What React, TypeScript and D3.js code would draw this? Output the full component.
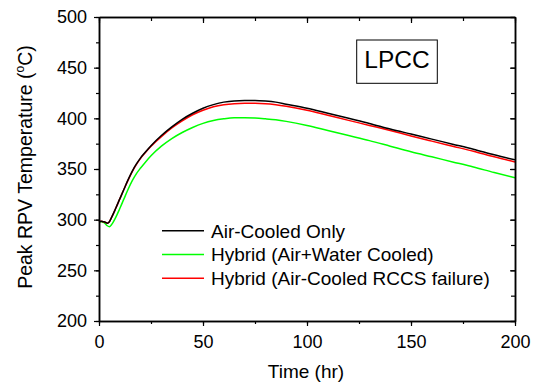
import React, { useEffect, useRef } from "react";
import * as d3 from "d3";

// time (hr) sample points
const times = [0, 1, 2, 3, 4, 5, 6, 8, 10, 12, 14, 16, 18, 20, 22, 25, 30, 35, 40, 45, 50, 55, 60, 65, 70, 75, 80, 85, 90, 100, 110, 120, 130, 140, 150, 160, 170, 180, 190, 200];

const airCooled = [298, 298.5, 298, 297.5, 296.5, 298, 302, 311, 320.5, 330, 339.5, 348, 355, 361, 366, 373, 383, 391.5, 399, 405, 410, 413.5, 416, 417.2, 417.5, 417.5, 417, 416, 414, 410, 405, 400, 395, 389.5, 384.5, 379.5, 374.5, 369.5, 364, 359];
const hybridWater = [298, 298, 297.5, 296, 294, 293, 295, 302, 311, 320.5, 330, 338.5, 345.5, 351, 356, 363, 372.5, 380, 386, 391, 395, 397.8, 399.5, 400.5, 400.6, 400.3, 399.5, 398.5, 397, 393, 388, 383, 378, 372.5, 367, 362, 357, 352, 346.5, 341.4];
const hybridFailure = [298, 298.5, 298, 297.5, 296.5, 298, 302, 311, 320.5, 330, 339, 347.5, 354.5, 360.5, 365.5, 372.5, 382, 390.5, 397.5, 403.5, 408, 411.5, 413.5, 414.5, 414.8, 414.8, 414.5, 413.5, 412, 408, 403, 398, 393, 388, 382.6, 377.5, 372.5, 367.5, 362, 357];

const seriesNames = ["Air-Cooled Only", "Hybrid (Air+Water Cooled)", "Hybrid (Air-Cooled RCCS failure)"];
const seriesColors = ["#000000", "#00ff00", "#ff0000"];

const xTicks = [0, 50, 100, 150, 200];
const yTicks = [200, 250, 300, 350, 400, 450, 500];

const W = 535, H = 385;
const M = { left: 99, right: 515, top: 17, bottom: 321 };
const FONT = "Arial, 'Liberation Sans', sans-serif";

export default function App() {
  const ref = useRef<SVGSVGElement>(null);

  useEffect(() => {
    const svg = d3.select(ref.current);
    svg.selectAll("*").remove();

    const x = d3.scaleLinear().domain([0, 200]).range([M.left, M.right]);
    const y = d3.scaleLinear().domain([200, 500]).range([M.bottom, M.top]);

    const series = [airCooled, hybridWater, hybridFailure];
    const line = d3.line<number>()
      .x((_, i) => x(times[i]))
      .y(d => y(d))
      .curve(d3.curveMonotoneX);

    // draw order: green, red, black on top
    [1, 2, 0].forEach(k => {
      svg.append("path")
        .attr("d", line(series[k]))
        .attr("fill", "none")
        .attr("stroke", seriesColors[k])
        .attr("stroke-width", 1.5);
    });

    const minorX = d3.range(0, 201, 25);
    const minorY = d3.range(200, 501, 25);

    const styleAxis = (g: any) => {
      g.selectAll("path").attr("stroke", "#000").attr("stroke-width", 1.5);
      g.selectAll("line").attr("stroke", "#000").attr("stroke-width", 1.2);
      g.selectAll("text").attr("font-family", FONT).attr("font-size", 18).attr("fill", "#000");
    };

    // minor ticks
    svg.append("g").attr("transform", `translate(0,${M.bottom})`)
      .call(d3.axisBottom(x).tickValues(minorX).tickSize(3).tickFormat(() => "").tickSizeOuter(0))
      .call(styleAxis);
    svg.append("g").attr("transform", `translate(${M.left},0)`)
      .call(d3.axisLeft(y).tickValues(minorY).tickSize(3).tickFormat(() => "").tickSizeOuter(0))
      .call(styleAxis);
    svg.append("g").attr("transform", `translate(0,${M.top})`)
      .call(d3.axisBottom(x).tickValues(minorX).tickSize(4).tickFormat(() => "").tickSizeOuter(0))
      .call(styleAxis);
    svg.append("g").attr("transform", `translate(${M.right},0)`)
      .call(d3.axisLeft(y).tickValues(minorY).tickSize(4).tickFormat(() => "").tickSizeOuter(0))
      .call(styleAxis);

    // major ticks
    const bottom = svg.append("g").attr("transform", `translate(0,${M.bottom})`)
      .call(d3.axisBottom(x).tickValues(xTicks).tickSize(5).tickPadding(9).tickSizeOuter(0))
      .call(styleAxis);
    bottom.selectAll("text").attr("dy", "0.71em");
    svg.append("g").attr("transform", `translate(${M.left},0)`)
      .call(d3.axisLeft(y).tickValues(yTicks).tickSize(5).tickPadding(7).tickSizeOuter(0))
      .call(styleAxis);
    svg.append("g").attr("transform", `translate(0,${M.top})`)
      .call(d3.axisBottom(x).tickValues(xTicks).tickSize(6).tickFormat(() => "").tickSizeOuter(0))
      .call(styleAxis);
    svg.append("g").attr("transform", `translate(${M.right},0)`)
      .call(d3.axisLeft(y).tickValues(yTicks).tickSize(5).tickFormat(() => "").tickSizeOuter(0))
      .call(styleAxis);

    // axis titles
    svg.append("text")
      .attr("x", 306)
      .attr("y", 378)
      .attr("text-anchor", "middle")
      .attr("font-family", FONT).attr("font-size", 19)
      .text("Time (hr)");

    const yl = svg.append("text")
      .attr("transform", `translate(31.5,167) rotate(-90)`)
      .attr("text-anchor", "middle")
      .attr("font-family", FONT).attr("font-size", 19.5);
    yl.append("tspan").text("Peak RPV Temperature (");
    yl.append("tspan").attr("font-size", 12).attr("dy", -8).text("o");
    yl.append("tspan").attr("dy", 8).text("C)");

    // legend
    seriesNames.forEach((name, i) => {
      const ly = 230.7 + i * 23.8;
      svg.append("line")
        .attr("x1", 162).attr("x2", 204).attr("y1", ly).attr("y2", ly)
        .attr("stroke", seriesColors[i]).attr("stroke-width", 1.5);
      svg.append("text")
        .attr("x", 211).attr("y", ly + 6.8)
        .attr("font-family", FONT).attr("font-size", 19)
        .text(name);
    });

    // LPCC label box
    svg.append("rect")
      .attr("x", 356.7).attr("y", 40).attr("width", 80.6).attr("height", 43.3)
      .attr("fill", "#fff").attr("stroke", "#000").attr("stroke-width", 1);
    svg.append("text")
      .attr("x", 397).attr("y", 68.3)
      .attr("text-anchor", "middle")
      .attr("font-family", FONT).attr("font-size", 24.5)
      .text("LPCC");
  }, []);

  return (
    <div style={{ position: "absolute", left: 0, top: 0 }}>
      <svg ref={ref} width={W} height={H} style={{ display: "block", background: "#fff" }} />
    </div>
  );
}
